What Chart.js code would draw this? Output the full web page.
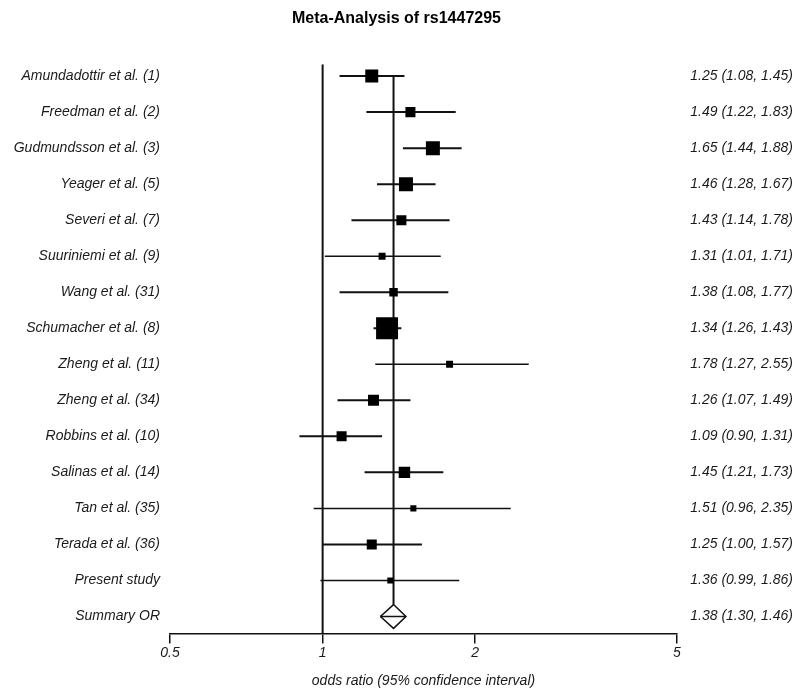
<!DOCTYPE html>
<html>
<head>
<meta charset="utf-8">
<title>Meta-Analysis of rs1447295</title>
<script src="https://cdn.jsdelivr.net/npm/chart.js@4"></script>
<style>
  body { margin: 0; background: #fff; }
</style>
</head>
<body>
<canvas id="forest" width="800" height="698"></canvas>
<script>
// study data, top to bottom
const studies = [
  'Amundadottir et al. (1)', 'Freedman et al. (2)', 'Gudmundsson et al. (3)', 'Yeager et al. (5)',
  'Severi et al. (7)', 'Suuriniemi et al. (9)', 'Wang et al. (31)', 'Schumacher et al. (8)',
  'Zheng et al. (11)', 'Zheng et al. (34)', 'Robbins et al. (10)', 'Salinas et al. (14)',
  'Tan et al. (35)', 'Terada et al. (36)', 'Present study'
];
const oddsRatio = [1.25, 1.49, 1.65, 1.46, 1.43, 1.31, 1.38, 1.34, 1.78, 1.26, 1.09, 1.45, 1.51, 1.25, 1.36];
const ciLower   = [1.08, 1.22, 1.44, 1.28, 1.14, 1.01, 1.08, 1.26, 1.27, 1.07, 0.90, 1.21, 0.96, 1.00, 0.99];
const ciUpper   = [1.45, 1.83, 1.88, 1.67, 1.78, 1.71, 1.77, 1.43, 2.55, 1.49, 1.31, 1.73, 2.35, 1.57, 1.86];
// relative study weights (%)
const weights   = [8.7, 5.2, 10.1, 10.1, 5.2, 2.5, 3.7, 24.9, 2.5, 6.2, 5.2, 6.8, 1.9, 5.2, 1.9];

const summaryLabel = 'Summary OR';
const summaryOR = 1.38;
const summaryLower = 1.30;
const summaryUpper = 1.46;

const xTicks = [0.5, 1, 2, 5];

const fmt = v => v.toFixed(2);
const rowLabels = studies.concat([summaryLabel]);
const rowValues = oddsRatio.map((or, i) => `${fmt(or)} (${fmt(ciLower[i])}, ${fmt(ciUpper[i])})`)
  .concat([`${fmt(summaryOR)} (${fmt(summaryLower)}, ${fmt(summaryUpper)})`]);

const nRows = rowLabels.length;
const summaryRow = nRows - 1;
const yMin = -0.33, yMax = summaryRow + 0.47;
const diamondHalf = 0.33;

Chart.defaults.font.family = '"Liberation Sans", Arial, sans-serif';
Chart.defaults.color = '#1a1a1a';

const datasets = [];

// boxes, area proportional to weight
datasets.push({
  type: 'scatter',
  data: oddsRatio.map((or, i) => ({ x: or, y: i })),
  pointStyle: 'rect',
  pointRadius: weights.map(w => 4.4 * Math.sqrt(w) / Math.SQRT2),
  backgroundColor: '#000',
  borderWidth: 0,
  order: 0
});

// confidence intervals
studies.forEach((s, i) => {
  datasets.push({
    type: 'line',
    data: [{ x: ciLower[i], y: i }, { x: ciUpper[i], y: i }],
    borderColor: '#111',
    borderWidth: weights[i] < 3 ? 1.5 : 2,
    pointRadius: 0,
    order: 1
  });
});

// line of no effect
datasets.push({
  type: 'line',
  data: [{ x: 1, y: yMin }, { x: 1, y: yMax }],
  borderColor: '#111', borderWidth: 2, pointRadius: 0, order: 2
});

// summary estimate line
datasets.push({
  type: 'line',
  data: [{ x: summaryOR, y: 0 }, { x: summaryOR, y: summaryRow - diamondHalf }],
  borderColor: '#111', borderWidth: 2, pointRadius: 0, order: 2
});

// summary diamond
datasets.push({
  type: 'line',
  data: [
    { x: summaryLower, y: summaryRow },
    { x: summaryOR, y: summaryRow - diamondHalf },
    { x: summaryUpper, y: summaryRow },
    { x: summaryOR, y: summaryRow + diamondHalf },
    { x: summaryLower, y: summaryRow }
  ],
  borderColor: '#111', borderWidth: 1.5, pointRadius: 0, fill: false, order: 1
});
datasets.push({
  type: 'line',
  data: [{ x: summaryLower, y: summaryRow }, { x: summaryUpper, y: summaryRow }],
  borderColor: '#111', borderWidth: 1.5, pointRadius: 0, order: 1
});

const rowTicks = scale => { scale.ticks = rowLabels.map((_, i) => ({ value: i })); };
const italic = { size: 14, style: 'italic' };

new Chart(document.getElementById('forest'), {
  type: 'scatter',
  data: { datasets },
  options: {
    responsive: false,
    animation: false,
    layout: { padding: { left: 0, right: 7, top: 0, bottom: 8 } },
    plugins: {
      legend: { display: false },
      tooltip: { enabled: false },
      title: {
        display: true,
        text: 'Meta-Analysis of rs1447295',
        color: '#000',
        font: { size: 16, weight: 'bold' },
        padding: { top: 9, bottom: 36 }
      }
    },
    scales: {
      x: {
        type: 'logarithmic',
        min: 0.5,
        max: 5,
        afterBuildTicks: scale => { scale.ticks = xTicks.map(v => ({ value: v })); },
        ticks: {
          autoSkip: false,
          maxRotation: 0,
          padding: 1,
          font: italic,
          callback: v => String(v)
        },
        grid: { drawOnChartArea: false, drawTicks: true, tickLength: 10, color: '#111', lineWidth: 1.5 },
        border: { display: true, color: '#111', width: 1.5 },
        title: {
          display: true,
          text: 'odds ratio (95% confidence interval)',
          font: italic,
          padding: { top: 11, bottom: 0 }
        }
      },
      y: {
        type: 'linear',
        position: 'left',
        reverse: true,
        min: yMin,
        max: yMax,
        afterBuildTicks: rowTicks,
        afterFit: scale => { scale.width = 170; },
        ticks: { padding: 10, font: italic, callback: v => rowLabels[v] },
        grid: { display: false, drawTicks: false },
        border: { display: false }
      },
      y2: {
        type: 'linear',
        position: 'right',
        reverse: true,
        min: yMin,
        max: yMax,
        afterBuildTicks: rowTicks,
        afterFit: scale => { scale.width = 116; },
        ticks: { crossAlign: 'far', font: italic, callback: v => rowValues[v] },
        grid: { display: false, drawTicks: false },
        border: { display: false }
      }
    }
  }
});
</script>
</body>
</html>
